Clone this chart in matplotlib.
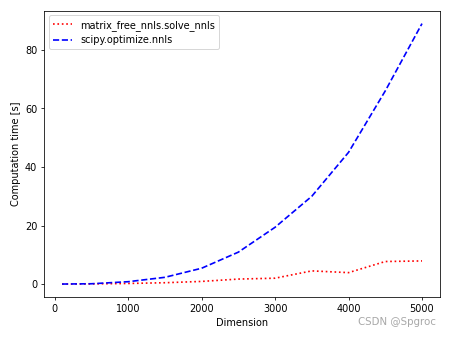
import matplotlib
matplotlib.use("Agg")
import matplotlib.pyplot as plt

dims = [100, 500, 1000, 1500, 2000, 2500, 3000, 3500, 4000, 4500, 5000]
mf_times = [0.0, 0.05, 0.2, 0.45, 0.9, 1.7, 2.0, 4.5, 3.9, 7.7, 7.9]
scipy_times = [0.0, 0.1, 0.8, 2.3, 5.4, 10.9, 19.4, 30.0, 45.0, 66.0, 89.0]

fig = plt.figure(figsize=(6.4, 4.8), dpi=451/6.4)
ax = fig.add_axes([0.0976, 0.121, 0.878, 0.847])
ax.plot(dims, mf_times, 'r:', lw=1.7, label='matrix_free_nnls.solve_nnls')
ax.plot(dims, scipy_times, 'b--', lw=1.7, label='scipy.optimize.nnls')
ax.set_xlabel('Dimension')
ax.set_ylabel('Computation time [s]')
ax.legend(loc='upper left')
fig.text(0.967, 0.033, 'CSDN @Spgroc', ha='right', va='bottom', color='#a8a8a8', fontsize=10.5)
fig.savefig('out.png', dpi=451/6.4)
